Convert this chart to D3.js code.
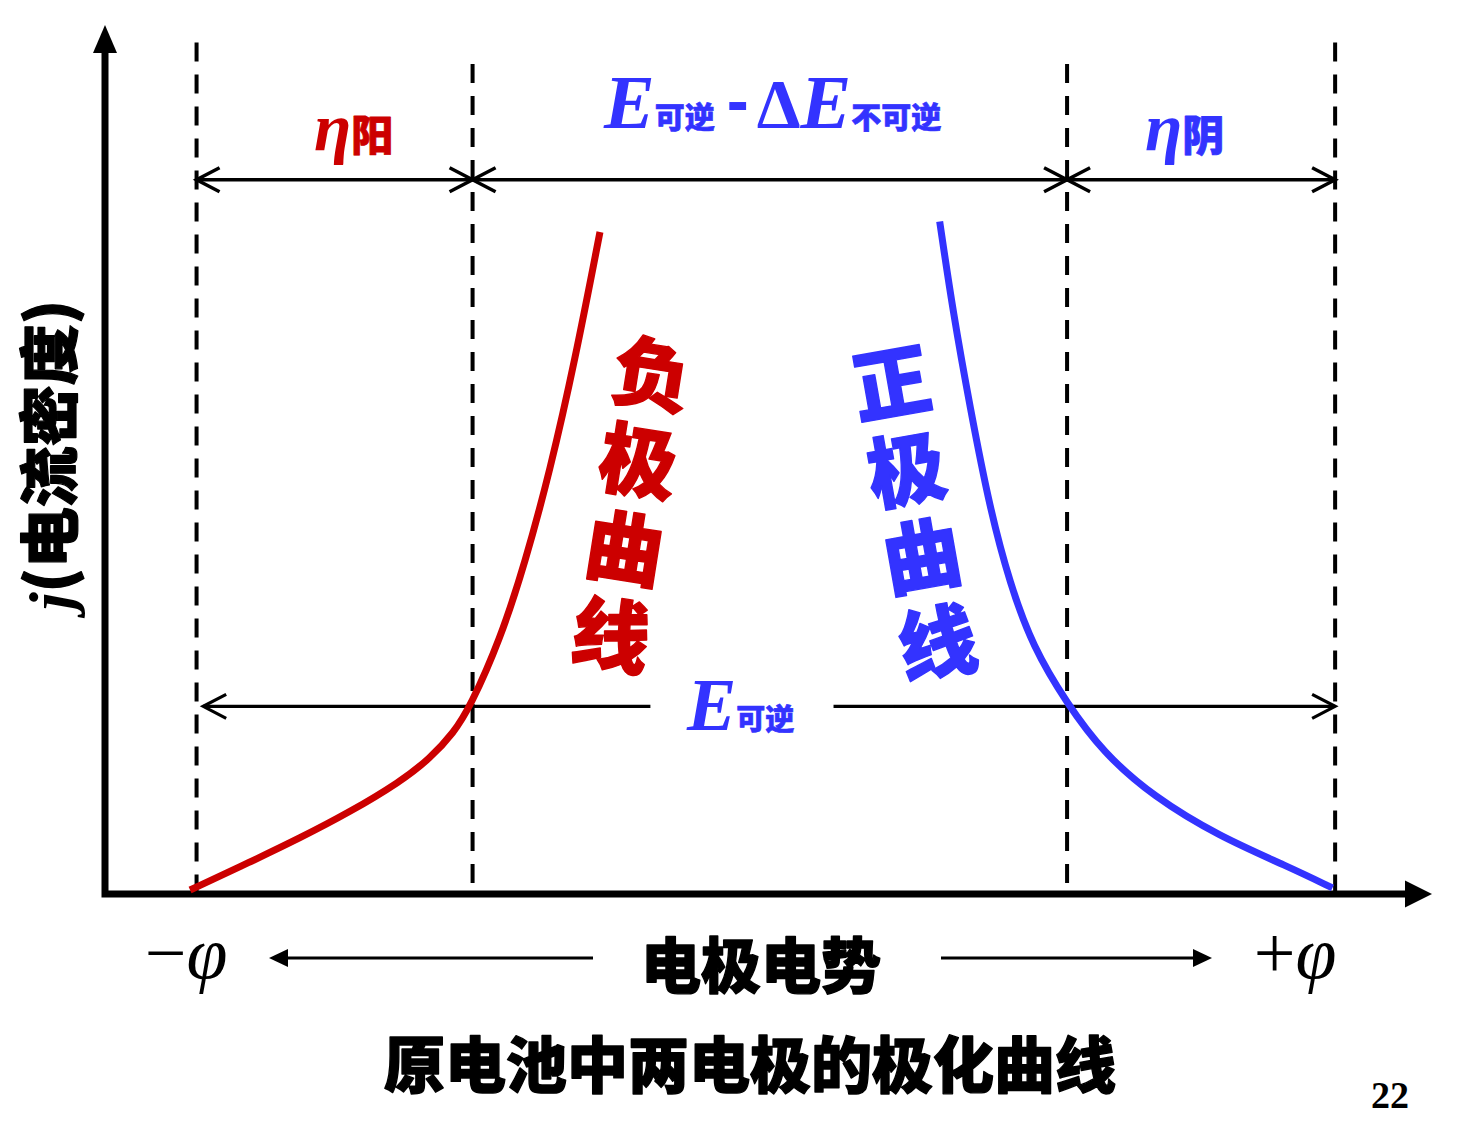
<!DOCTYPE html>
<html><head><meta charset="utf-8">
<script src="https://cdn.jsdelivr.net/npm/d3@7"></script>
<style>body{margin:0;background:#fff}</style>
</head><body><svg id="c" width="1472" height="1132"></svg>
<script>
// ---- data (potential: 0..100 arbitrary units, current density: 0..100 arbitrary units)
const anodeCurve = [[6.41,0.46],[10.93,3.68],[14.69,6.44],[18.46,9.44],[22.23,12.89],[24.5,15.6],[26.3,18.6],[27.51,21.52],[29.77,29.23],[31.65,38.09],[33.53,48.68],[35.41,61.34],[37.30,76.18]];
const cathodeCurve = [[62.9,77.4],[63.9,67.0],[65.2,55.9],[66.7,44.2],[68.2,35.7],[69.9,28.5],[72.5,21.9],[75.2,16.3],[79.0,11.2],[84.0,6.6],[89.1,3.2],[92.5,0.7]];
const boundaries = [6.9, 27.7, 72.5, 92.7];
const dashTops = [98.0, 95.5, 95.5, 98.0];
const overpotLevel = 82.2;
const eRevLevel = 21.6;
const eRevSpan = [7.4, 92.7];
const eRevGap = [41.1, 54.9];
const curveLabelNeg = ["负","极","曲","线"];
const curveLabelPos = ["正","极","曲","线"];
const axisTitleX = "电极电势";
const axisTitleY = ["j", "(电流密度)"];
const chartTitle = "原电池中两电极的极化曲线";
const pageNumber = "22";

const RED = "#CC0000", BLUE = "#3333FF";
const CJK = "'Noto Sans CJK SC','Noto Sans CJK TC',sans-serif";
const SERIF = "'Liberation Serif','Times New Roman',serif";

const svg = d3.select("#c");
const x = d3.scaleLinear().domain([0,100]).range([105,1432]);
const y = d3.scaleLinear().domain([0,100]).range([894,25]);

// dashed boundaries
svg.selectAll("line.dash").data(boundaries.map((b,i)=>({b,t:dashTops[i]}))).join("line")
  .attr("class","dash")
  .attr("x1",d=>x(d.b)).attr("x2",d=>x(d.b))
  .attr("y1",d=>y(d.t)).attr("y2",y(0))
  .attr("stroke","#000").attr("stroke-width",4).attr("stroke-dasharray","19 13");

// axes
svg.append("path")
  .attr("d",`M${x(0)},${y(100)+24}L${x(0)},${y(0)}L${x(100)-24},${y(0)}`)
  .attr("fill","none").attr("stroke","#000").attr("stroke-width",7).attr("stroke-linejoin","miter");
svg.append("path").attr("d",`M${x(0)},${y(100)}L${x(0)-12},${y(100)+28}L${x(0)+12},${y(100)+28}Z`).attr("fill","#000");
svg.append("path").attr("d",`M${x(100)},${y(0)}L${x(100)-27},${y(0)-13.5}L${x(100)-27},${y(0)+13.5}Z`).attr("fill","#000");

function chevron(tx,ty,dir){
  return `M${tx-dir*23},${ty-12}L${tx},${ty}L${tx-dir*23},${ty+12}`;
}
// top double arrows
const intervals = d3.pairs(boundaries);
const gTop = svg.append("g").attr("stroke","#000").attr("fill","none").attr("stroke-width",3.5);
intervals.forEach(([a,b])=>{
  gTop.append("line").attr("x1",x(a)).attr("x2",x(b)).attr("y1",y(overpotLevel)).attr("y2",y(overpotLevel));
  gTop.append("path").attr("d",chevron(x(a),y(overpotLevel),-1));
  gTop.append("path").attr("d",chevron(x(b),y(overpotLevel),1));
});
// E reversible arrow
const gE = svg.append("g").attr("stroke","#000").attr("fill","none").attr("stroke-width",3.2);
gE.append("line").attr("x1",x(eRevSpan[0])).attr("x2",x(eRevGap[0])).attr("y1",y(eRevLevel)).attr("y2",y(eRevLevel));
gE.append("line").attr("x1",x(eRevGap[1])).attr("x2",x(eRevSpan[1])).attr("y1",y(eRevLevel)).attr("y2",y(eRevLevel));
gE.append("path").attr("d",chevron(x(eRevSpan[0]),y(eRevLevel),-1));
gE.append("path").attr("d",chevron(x(eRevSpan[1]),y(eRevLevel),1));

// curves
const line = d3.line().x(d=>x(d[0])).y(d=>y(d[1])).curve(d3.curveBasis);
svg.append("path").datum(anodeCurve).attr("d",line).attr("fill","none").attr("stroke",RED).attr("stroke-width",7);
svg.append("path").datum(cathodeCurve).attr("d",line).attr("fill","none").attr("stroke",BLUE).attr("stroke-width",7);

// direction arrows under axis
const gd = svg.append("g");
gd.append("line").attr("x1",593).attr("x2",285).attr("y1",958).attr("y2",958).attr("stroke","#000").attr("stroke-width",3);
gd.append("path").attr("d","M269,958L288,949L288,967Z").attr("fill","#000");
gd.append("line").attr("x1",941).attr("x2",1196).attr("y1",958).attr("y2",958).attr("stroke","#000").attr("stroke-width",3);
gd.append("path").attr("d","M1212,958L1193,949L1193,967Z").attr("fill","#000");

// ---- text
function cjk(sel,size,sw){ sel.style("font-family",CJK).style("font-weight",900).style("font-size",size+"px");
  if(sw) sel.style("stroke","currentColor").style("stroke-width",sw).style("stroke-linejoin","round");
  return sel; }
function ser(sel,size,it){ return sel.style("font-family",SERIF).style("font-weight","bold").style("font-style",it?"italic":"normal").style("font-size",size+"px"); }

// eta labels
[[314,RED,"阳"],[1145,BLUE,"阴"]].forEach(([px,col,ch])=>{
  const t = svg.append("text").attr("x",px).attr("y",151).attr("fill",col).style("color",col);
  ser(t.append("tspan").text("η"),68,true);
  cjk(t.append("tspan").text(ch),42,0.8);
});

// E_rev - dE_irrev
{
  const t = svg.append("text").attr("x",604).attr("y",128).attr("fill",BLUE).style("color",BLUE);
  ser(t.append("tspan").text("E"),76,true);
  cjk(t.append("tspan").text("可逆"),30,0.6);
  t.append("tspan").attr("dx",12).attr("dy",-5).text("-").style("font-family","'Liberation Sans',Arial,sans-serif").style("font-weight","bold").style("font-size","66px");
  ser(t.append("tspan").attr("dx",8).attr("dy",5).text("Δ"),70,false);
  ser(t.append("tspan").text("E"),76,true);
  cjk(t.append("tspan").text("不可逆"),30,0.6);
}
// E_rev bottom
{
  const t = svg.append("text").attr("x",687).attr("y",730).attr("fill",BLUE).style("color",BLUE);
  ser(t.append("tspan").text("E"),74,true);
  cjk(t.append("tspan").text("可逆"),29,0.6);
}

// curve labels
function column(chars,cx,cy,rot,col){
  const g = svg.append("g").attr("transform",`translate(${cx},${cy}) rotate(${rot})`).style("color",col);
  chars.forEach((c,i)=>{
    cjk(g.append("text").attr("x",0).attr("y",(i-1.5)*88).attr("text-anchor","middle").attr("dominant-baseline","central").attr("fill",col).text(c),78,1.4);
  });
}
column(curveLabelNeg,632.5,500,9,RED);
column(curveLabelPos,913.5,508,-10,BLUE);

// y axis title
{
  const g = svg.append("g").attr("transform","translate(66,455) rotate(-90)").style("color","#000");
  const t = g.append("text").attr("text-anchor","middle").attr("dy","0.36em").attr("fill","#000")
    .attr("textLength",310).attr("lengthAdjust","spacingAndGlyphs");
  ser(t.append("tspan").text(axisTitleY[0]),62,true);
  cjk(t.append("tspan").text(axisTitleY[1]),60,1.2);
}

// phi labels
[[186,"−"],[1295,"+"]].forEach(([px,s])=>{
  const t = svg.append("text").attr("x",px).attr("y",978).attr("text-anchor","middle").attr("fill","#000")
    .style("font-family",SERIF).style("font-size","74px");
  t.append("tspan").text(s);
  t.append("tspan").style("font-style","italic").text("φ");
});

cjk(svg.append("text").attr("x",761).attr("y",961).attr("text-anchor","middle").attr("dominant-baseline","central").attr("fill","#000").style("color","#000").text(axisTitleX),60,1.4);
cjk(svg.append("text").attr("x",750).attr("y",1061).attr("text-anchor","middle").attr("dominant-baseline","central").attr("fill","#000").style("color","#000").text(chartTitle),61,1.4);
ser(svg.append("text").attr("x",1390).attr("y",1108).attr("text-anchor","middle").attr("fill","#000").text(pageNumber),38,false);
</script>
</body></html>
